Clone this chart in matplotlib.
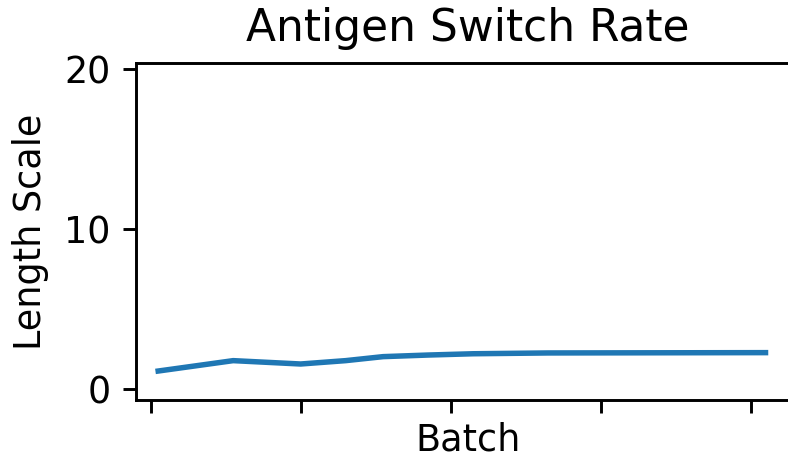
import matplotlib
matplotlib.use("Agg")
import matplotlib.pyplot as plt

# Length scale per batch
batch = [1, 11, 20, 26, 31, 37, 43, 53, 67, 82]
length_scale = [1.12, 1.77, 1.56, 1.77, 2.02, 2.12, 2.20, 2.25, 2.26, 2.27]
x_ticks = [0, 20, 40, 60, 80]
y_ticks = [0, 10, 20]

DPI = 263
fig = plt.figure(figsize=(788 / DPI, 460 / DPI), dpi=DPI)
ax = fig.add_axes([136 / 788, 60 / 460, 664 / 788, 337.3 / 460])

ax.plot(batch, length_scale, color="#1f77b4", linewidth=1.5)

ax.set_xlim(-1.96, 86.6)
ax.set_ylim(-0.69, 20.39)
ax.set_xticks(x_ticks)
ax.set_yticks(y_ticks)
ax.tick_params(axis="x", labelbottom=False)

ax.set_title("Antigen Switch Rate")
ax.set_xlabel("Batch", labelpad=2.5)
ax.set_ylabel("Length Scale")

fig.savefig("out.png", dpi=DPI)
